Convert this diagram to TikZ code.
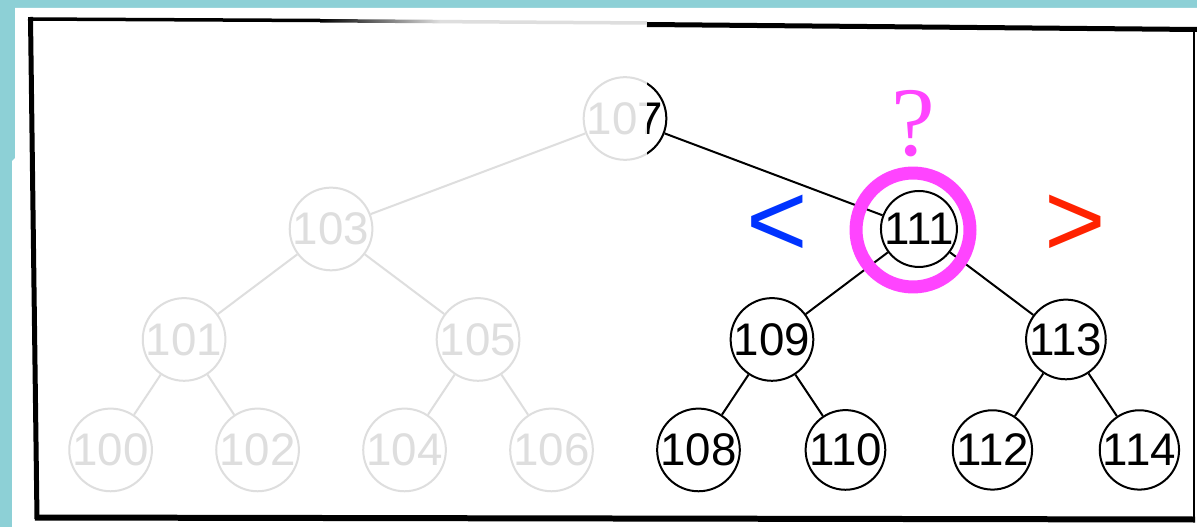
\documentclass[tikz,border=0pt]{standalone}
\usepackage{fontspec}
\setmainfont{Liberation Sans}
\newfontfamily\markfont{Liberation Serif}
\usepackage{xcolor}
\definecolor{colorBoard}{RGB}{141,208,214}
\colorlet{colorFaded}{black!13}
\definecolor{colorMark}{RGB}{255,68,255}
\definecolor{colorLess}{RGB}{0,51,255}
\definecolor{colorMore}{RGB}{255,34,0}
\usepackage{tikz}
\usetikzlibrary{positioning}
\tikzset{key/.style={circle, draw, line width=0.04cm, minimum size=1.5cm, inner sep=0pt, font=\fontsize{26}{26}\selectfont}}
\tikzset{faded/.style={draw=colorFaded, text=colorFaded}}
\tikzset{link/.style={line width=0.04cm}}

\begin{document}
\begin{tikzpicture}[x=0.02cm, y=-0.02cm, on grid]
\fill[colorBoard] (0,0) rectangle (1197,527);
\useasboundingbox (0,0) rectangle (1197,527);
% the sheet and its frame
\fill[white] (15,8) -- (1197,8) -- (1197,527) -- (12,527) -- (12,161) -- (15,158) -- cycle;
\draw[line width=0.07cm] (28,19) -- (320,20.5);
\shade[left color=black, right color=colorFaded] (320,19) -- (440,19.8) -- (440,23.3) -- (320,22.5) -- cycle;
\draw[line width=0.07cm, colorFaded] (440,21.6) -- (647,23);
\draw[line width=0.1cm] (647,24.5) -- (1197,29.5);
\draw[line width=0.1cm] (30.5,17) -- (37,519);
\draw[line width=0.12cm] (35,517.5) -- (1195,519.5);
\draw[line width=0.05cm] (1194,29) -- (1194,520);
% tree
\node[key, faded] (n107) at (625,118.5) {107};
\node[key, faded, below left=2.21cm and 5.88cm of n107] (n103) {103};
\node[key, below right=2.21cm and 5.88cm of n107] (n111) {111};
\node[key, faded, below left=2.21cm and 2.94cm of n103] (n101) {101};
\node[key, faded, below right=2.21cm and 2.94cm of n103] (n105) {105};
\node[key, below left=2.21cm and 2.94cm of n111] (n109) {109};
\node[key, below right=2.21cm and 2.94cm of n111] (n113) {113};
\node[key, faded, below left=2.21cm and 1.47cm of n101] (n100) {100};
\node[key, faded, below right=2.21cm and 1.47cm of n101] (n102) {102};
\node[key, faded, below left=2.21cm and 1.47cm of n105] (n104) {104};
\node[key, faded, below right=2.21cm and 1.47cm of n105] (n106) {106};
\node[key, below left=2.21cm and 1.47cm of n109] (n108) {108};
\node[key, below right=2.21cm and 1.47cm of n109] (n110) {110};
\node[key, below left=2.21cm and 1.47cm of n113] (n112) {112};
\node[key, below right=2.21cm and 1.47cm of n113] (n114) {114};
\draw[link, colorFaded] (n107) -- (n103) (n103) -- (n101) (n103) -- (n105) (n101) -- (n100) (n101) -- (n102) (n105) -- (n104) (n105) -- (n106);
\draw[link] (n107) -- (n111) (n111) -- (n109) (n111) -- (n113) (n109) -- (n108) (n109) -- (n110) (n113) -- (n112) (n113) -- (n114);
% right half of the root shows dark
\begin{scope}
\clip (647,0) rectangle (1197,527);
\node[key] (n107r) at (n107) {107};
\end{scope}
% marks round the key
\node[circle, draw=colorMark, line width=0.26cm, minimum size=2.28cm, inner sep=0pt] (ring) at (913,230) {};
\node[anchor=base, inner sep=0pt, text=colorMark, font=\markfont\fontsize{56}{56}\selectfont] (ask) at (913,155) {?};
\node[inner sep=0pt, text=colorLess, font=\fontsize{60}{60}\selectfont] (less) at (777,226) {<};
\node[inner sep=0pt, text=colorMore, font=\fontsize{60}{60}\selectfont] (more) at (1075,226) {>};
\end{tikzpicture}
\end{document}
